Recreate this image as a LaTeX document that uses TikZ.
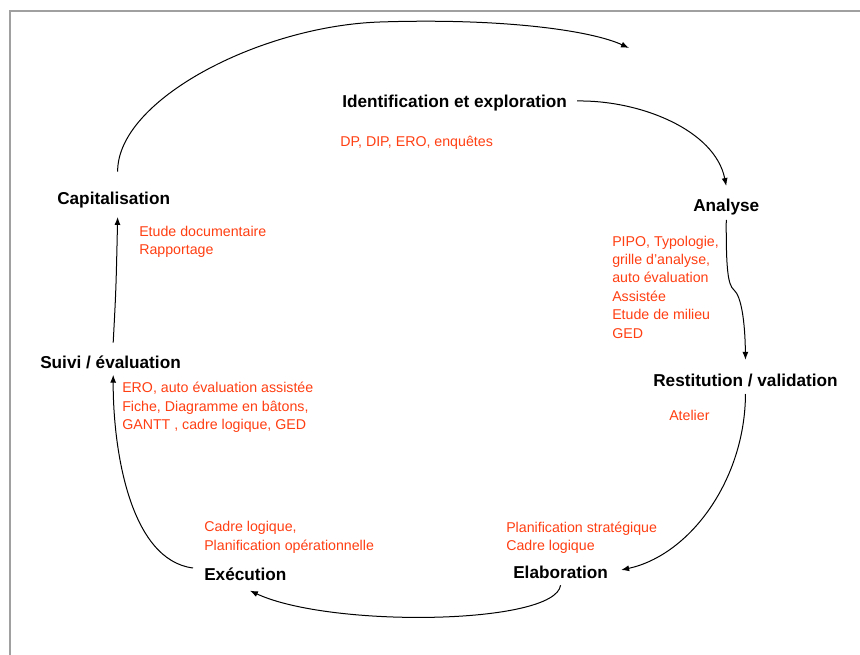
\documentclass[tikz,border=0pt]{standalone}
\usepackage{fontspec}
\setmainfont{Liberation Sans}
\usetikzlibrary{arrows.meta}
\definecolor{toolred}{RGB}{255,62,18}
\definecolor{framegray}{RGB}{160,160,160}
\tikzstyle{phase} = [inner sep=0,anchor=west,font=\fontsize{12.9}{15}\selectfont\bfseries]
\tikzstyle{tools} = [inner sep=0,anchor=west,align=left,text=toolred,font=\fontsize{10.65}{13.8}\selectfont]
\tikzstyle{flow} = [line width=0.75pt,-{Latex[length=6pt,width=4.5pt]}]

\begin{document}
\begin{tikzpicture}[x=0.75pt,y=-0.75pt]
      \useasboundingbox (0,0) rectangle (860,655);
      \draw[framegray,line width=1.5pt] (9.5,655) -- (9.5,11) -- (860,11);
      \node[phase] (ident) at (342,103) {Identification et exploration};
      \node[tools] (identtools) at (340,143) {DP, DIP, ERO, enquêtes};
      \node[phase] (analyse) at (693,207) {Analyse};
      \node[tools] (analysetools) at (612,287) {PIPO, Typologie,\\grille d’analyse,\\auto évaluation\\Assistée\\Etude de milieu\\GED};
      \node[phase] (restit) at (653,380) {Restitution / validation};
      \node[tools] (restittools) at (669,415) {Atelier};
      \node[phase] (elab) at (513,572) {Elaboration};
      \node[tools] (elabtools) at (506,537.5) {Planification stratégique\\Cadre logique};
      \node[phase] (exec) at (204,574) {Exécution};
      \node[tools] (exectools) at (204,537.5) {Cadre logique,\\Planification opérationnelle};
      \node[phase] (suivi) at (40,362) {Suivi / évaluation};
      \node[tools] (suivitools) at (122,407.5) {ERO, auto évaluation assistée\\Fiche, Diagramme en bâtons,\\GANTT , cadre logique, GED};
      \node[phase] (capit) at (57,200) {Capitalisation};
      \node[tools] (capittools) at (139,242) {Etude documentaire\\Rapportage};
      \coordinate (restart) at (629,48);
      \draw[flow] ([shift={(3pt,15pt)}]capit.north) .. controls (117,100) and (260,26) .. (380,22)
            .. controls (500,18) and (590,30) .. (restart);
      \draw[flow] ([shift={(7.5pt,1.5pt)}]ident.east) .. controls (640,100) and (715,130) .. ([yshift=9.5pt]analyse.north);
      \draw[flow] ([yshift=-3.5pt]analyse.south) .. controls (726,270) and (728,285) .. (734,290)
            .. controls (741,296) and (745,320) .. ([yshift=10.1pt]restit.north);
      \draw[flow] ([yshift=-5.5pt]restit.south) .. controls (745,480) and (690,555) .. ([shift={(9.75pt,1.5pt)}]elab.east);
      \draw[flow] ([yshift=-5pt]elab.south) .. controls (555,625) and (330,628) .. ([shift={(3.4pt,-7.5pt)}]exec.south);
      \draw[flow] ([shift={(-8.25pt,4.5pt)}]exec.west) .. controls (130,560) and (113,450) .. ([shift={(2pt,-4.5pt)}]suivi.south);
      \draw[flow] ([shift={(2pt,9.5pt)}]suivi.north) .. controls (116,290) .. ([shift={(3pt,-6.5pt)}]capit.south);
    \end{tikzpicture}
\end{document}
